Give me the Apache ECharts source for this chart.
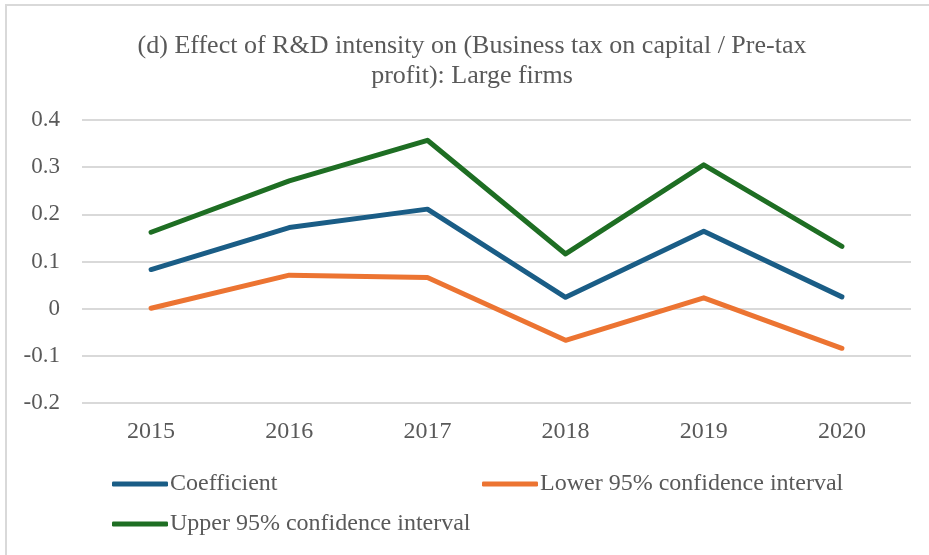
<!DOCTYPE html>
<html>
<head>
<meta charset="utf-8">
<script src="https://cdn.jsdelivr.net/npm/echarts@6/dist/echarts.min.js"></script>
<style>
html,body{margin:0;padding:0;background:#fff;}
#main{width:929px;height:555px;}
</style>
</head>
<body>
<div id="main"></div>
<script>
var categories = ['2015','2016','2017','2018','2019','2020'];
var coefficient = [0.083, 0.172, 0.211, 0.024, 0.164, 0.025];
var lowerCI = [0.001, 0.071, 0.066, -0.067, 0.023, -0.084];
var upperCI = [0.162, 0.271, 0.357, 0.116, 0.305, 0.132];
var yTicks = [-0.2, -0.1, 0, 0.1, 0.2, 0.3, 0.4];

var FONT = '"Liberation Serif", "Times New Roman", serif';
var TXT = '#595959';
var chart = echarts.init(document.getElementById('main'), null, {renderer:'canvas'});

function legendAt(name, left, top){
  return {
    data:[name], left:left, top:top, orient:'horizontal',
    itemWidth:56, itemHeight:5, itemGap:0, padding:0,
    icon:'roundRect',
    textStyle:{fontFamily:FONT, fontSize:24, color:TXT, padding:[0,0,0,-3]},
    selectedMode:false
  };
}

chart.setOption({
  backgroundColor:'#fff',
  animation:false,
  title:{
    text:'(d) Effect of R&D intensity on (Business tax on capital / Pre-tax\nprofit): Large firms',
    left:467, top:26, textAlign:'center',
    textStyle:{fontFamily:FONT, fontSize:26, fontWeight:'normal', color:TXT, lineHeight:30}
  },
  graphic:[
    {type:'rect', shape:{x:5, y:4, width:924, height:2}, style:{fill:'#d9d9d9'}},
    {type:'rect', shape:{x:5, y:4, width:2, height:551}, style:{fill:'#d9d9d9'}}
  ],
  legend:[
    legendAt('Coefficient', 112, 472),
    legendAt('Lower 95% confidence interval', 482, 472),
    legendAt('Upper 95% confidence interval', 112, 512)
  ],
  grid:{left:82, right:18, top:120, height:283, containLabel:false},
  xAxis:{
    type:'category', data:categories, boundaryGap:true,
    axisLine:{show:false}, axisTick:{show:false},
    axisLabel:{fontFamily:FONT, fontSize:24, color:TXT, margin:17}
  },
  yAxis:{
    type:'value', min:-0.2, max:0.4, interval:0.1,
    axisLine:{show:false}, axisTick:{show:false},
    splitLine:{lineStyle:{color:'#d9d9d9', width:2}},
    axisLabel:{fontFamily:FONT, fontSize:23, color:TXT, margin:22,
      formatter:function(v){ var r=Math.round(v*10)/10; return r===0?'0':String(r); }}
  },
  series:[
    {name:'Coefficient', type:'line', data:coefficient, symbol:'none',
     lineStyle:{color:'#1a5d86', width:5, cap:'round', join:'round'}, itemStyle:{color:'#1a5d86'}},
    {name:'Lower 95% confidence interval', type:'line', data:lowerCI, symbol:'none',
     lineStyle:{color:'#ec7432', width:5, cap:'round', join:'round'}, itemStyle:{color:'#ec7432'}},
    {name:'Upper 95% confidence interval', type:'line', data:upperCI, symbol:'none',
     lineStyle:{color:'#1e6e23', width:5, cap:'round', join:'round'}, itemStyle:{color:'#1e6e23'}}
  ]
});
</script>
</body>
</html>
